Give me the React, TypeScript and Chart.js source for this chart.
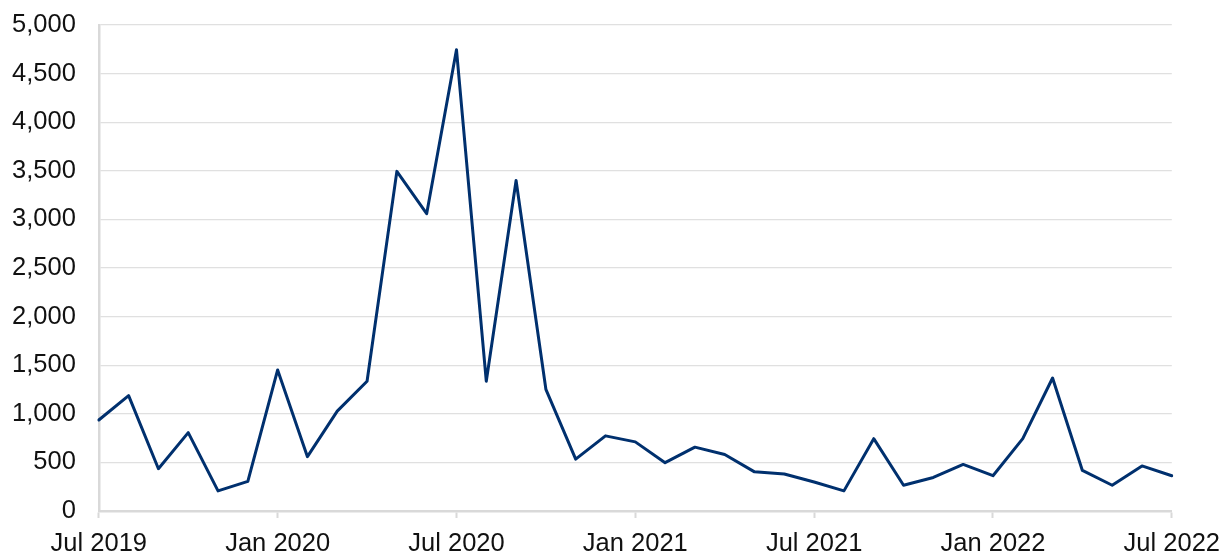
import React, { useEffect, useRef } from "react";
import { Chart, registerables } from "chart.js";

Chart.register(...registerables);

const months: string[] = [
  "Jul 2019", "Aug 2019", "Sep 2019", "Oct 2019", "Nov 2019", "Dec 2019",
  "Jan 2020", "Feb 2020", "Mar 2020", "Apr 2020", "May 2020", "Jun 2020",
  "Jul 2020", "Aug 2020", "Sep 2020", "Oct 2020", "Nov 2020", "Dec 2020",
  "Jan 2021", "Feb 2021", "Mar 2021", "Apr 2021", "May 2021", "Jun 2021",
  "Jul 2021", "Aug 2021", "Sep 2021", "Oct 2021", "Nov 2021", "Dec 2021",
  "Jan 2022", "Feb 2022", "Mar 2022", "Apr 2022", "May 2022", "Jun 2022",
  "Jul 2022",
];

const values: number[] = [
  936, 1187, 435, 806, 207, 305,
  1451, 559, 1027, 1335, 3494, 3059,
  4746, 1335, 3400, 1252, 533, 773,
  711, 497, 657, 581, 403, 381,
  298, 207, 744, 265, 345, 479,
  363, 744, 1368, 417, 265, 464,
  363,
];

const labelEvery = 6;
const yMin = 0;
const yMax = 5000;
const yStep = 500;

export default function App() {
  const ref = useRef<HTMLCanvasElement | null>(null);

  useEffect(() => {
    if (!ref.current) return;
    const font = { family: "'Liberation Sans', Arial, sans-serif", size: 25.5 };
    const chart = new Chart(ref.current, {
      type: "line",
      data: {
        labels: months,
        datasets: [
          {
            data: values,
            borderColor: "#00306E",
            borderWidth: 3,
            borderJoinStyle: "round",
            borderCapStyle: "round",
            pointRadius: 0,
            tension: 0,
            fill: false,
          },
        ],
      },
      options: {
        animation: false,
        responsive: true,
        maintainAspectRatio: false,
        layout: { padding: { left: 12, right: 0, top: 25, bottom: 0 } },
        plugins: { legend: { display: false }, tooltip: { enabled: false } },
        scales: {
          x: {
            type: "category",
            offset: false,
            afterFit: (s: any) => {
              s.height = 40;
            },
            grid: {
              display: true,
              drawOnChartArea: false,
              drawTicks: true,
              tickLength: 7,
              tickWidth: 2,
              tickColor: (ctx: any) =>
                ctx.index % labelEvery === 0 ? "#d9d9d9" : "rgba(0,0,0,0)",
            },
            border: { display: true, color: "#d9d9d9", width: 2.5 },
            ticks: {
              autoSkip: false,
              maxRotation: 0,
              minRotation: 0,
              padding: 11,
              color: "#111",
              font,
              callback: (_v: any, i: number) => (i % labelEvery === 0 ? months[i] : ""),
            },
          },
          y: {
            min: yMin,
            max: yMax,
            afterFit: (s: any) => {
              s.width = s.width - 3;
            },
            grid: {
              color: "#e0e0e0",
              lineWidth: 1.3,
              drawTicks: true,
              tickLength: 20,
              tickColor: "rgba(0,0,0,0)",
            },
            border: { display: true, color: "#d9d9d9", width: 2.5 },
            ticks: {
              stepSize: yStep,
              padding: 3,
              color: "#111",
              font,
              callback: (v: any) => Number(v).toLocaleString("en-US"),
            },
          },
        },
      },
    });
    return () => chart.destroy();
  }, []);

  return (
    <div style={{ position: "fixed", left: 0, top: 0, width: 1231, height: 551, background: "#fff" }}>
      <canvas ref={ref} />
    </div>
  );
}
